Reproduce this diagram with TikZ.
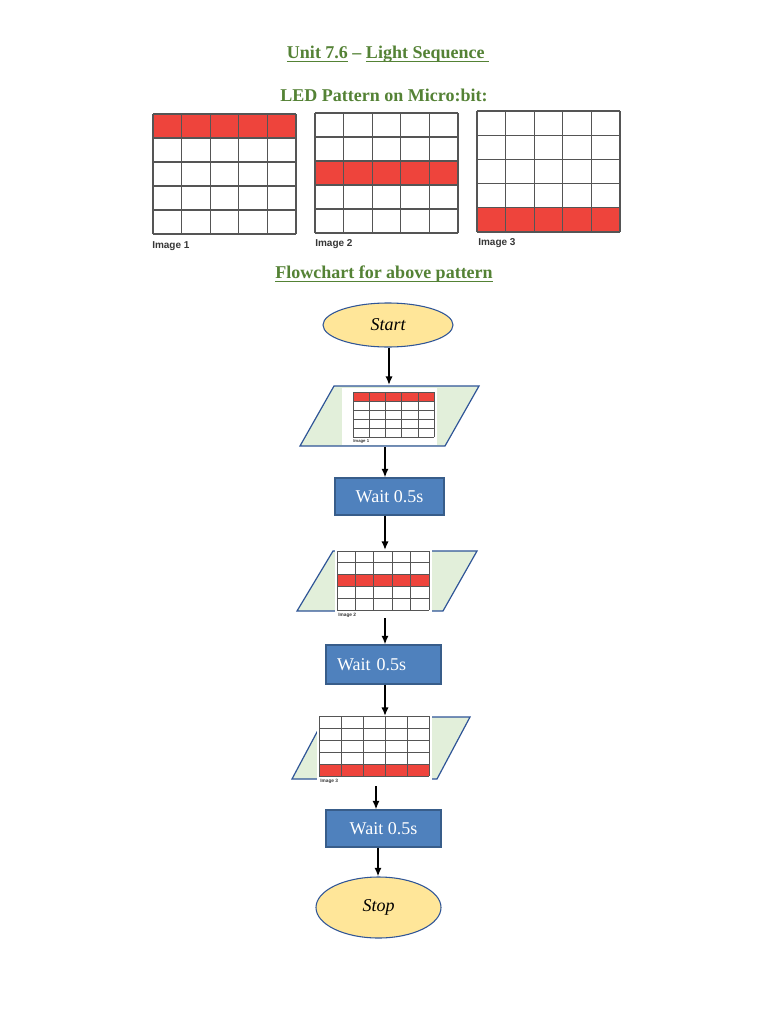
\documentclass[tikz,border=0pt]{standalone}
\usepackage{fontspec}
\setmainfont{Liberation Serif}
\newfontfamily\labfont{Liberation Sans}
\usetikzlibrary{shapes.geometric,arrows.meta}
\definecolor{titlegreen}{RGB}{84,130,53}
\definecolor{ledred}{RGB}{238,68,60}
\definecolor{gridgray}{RGB}{85,85,85}
\definecolor{termfill}{RGB}{255,230,153}
\definecolor{shapeblue}{RGB}{47,85,151}
\definecolor{iofill}{RGB}{226,239,218}
\definecolor{waitfill}{RGB}{79,129,189}
\definecolor{waitedge}{RGB}{56,93,138}
\definecolor{labgray}{RGB}{55,55,55}
\newcommand{\ledgrid}[6]{%
  \pgfmathsetmacro{\lgw}{(#3-#1)/5}%
  \pgfmathsetmacro{\lgh}{(#4-#2)/5}%
  \fill[ledred] (#1,{#2+(#5-1)*\lgh}) rectangle (#3,{#2+#5*\lgh});
  \foreach \k in {0,...,5}{%
    \draw[gridline,line width=#6] ({#1+\k*\lgw},#2) -- ({#1+\k*\lgw},#4);
    \draw[gridline,line width=#6] (#1,{#2+\k*\lgh}) -- (#3,{#2+\k*\lgh});
  }%
}
\newcommand{\myul}[1]{\setbox0=\hbox{#1}\rlap{\rule[-2.4pt]{\wd0}{0.75pt}}\box0\relax}
\tikzset{
  gridline/.style={draw=gridgray},
  titletext/.style={text=titlegreen,font=\fontsize{13.5pt}{16pt}\selectfont\bfseries,inner sep=0pt,anchor=base},
  imglabel/.style={text=labgray,font=\labfont\bfseries\fontsize{7.5pt}{9pt}\selectfont,inner sep=0pt,anchor=west},
  tinylabel/.style={text=labgray,font=\labfont\bfseries\fontsize{3.2pt}{4pt}\selectfont,inner sep=0pt,anchor=west},
  terminal/.style={ellipse,draw=shapeblue,line width=0.8pt,fill=termfill,inner sep=0pt,font=\itshape\fontsize{13.5pt}{16pt}\selectfont},
  iobox/.style={draw=shapeblue,line width=0.9pt,fill=iofill},
  imgbox/.style={fill=white,draw=none,inner sep=0pt},
  waitbox/.style={rectangle,draw=waitedge,line width=0.8pt,fill=waitfill,text=white,inner sep=0pt,font=\fontsize{13.5pt}{16pt}\selectfont},
  arr/.style={draw=black,line width=1.3pt,-{Latex[length=6.5pt,width=5.5pt]}}
}
\begin{document}
\begin{tikzpicture}[x=0.75pt,y=-0.75pt]
\useasboundingbox[fill=white] (0,0) rectangle (768,1024);

% titles
\node[titletext] (t1) at (388,59) {\myul{Unit 7.6} -- \myul{Light Sequence\ }};
\node[titletext] (t2) at (384,101.5) {LED Pattern on Micro:bit:};
\node[titletext] (t3) at (384,278.5) {\myul{Flowchart for above pattern}};

% LED patterns
\ledgrid{153}{114}{296}{234}{1}{0.8pt}
\node[imglabel] (l1) at (152,246) {Image 1};
\ledgrid{315}{113}{458}{233}{3}{0.8pt}
\node[imglabel] (l2) at (315,244) {Image 2};
\ledgrid{477}{111}{620}{232}{5}{0.8pt}
\node[imglabel] (l3) at (478,243) {Image 3};

% flowchart
\node[terminal,minimum width=97.5pt,minimum height=33pt] (start) at (388,325) {Start};

\draw[iobox] (300,446) -- (445,446) -- (479,386) -- (334,386) -- cycle;
\node[imgbox,minimum width=71.25pt,minimum height=42.75pt] (img1) at (389.5,416.5) {};
\ledgrid{353}{392}{434}{437}{1}{0.45pt}
\node[tinylabel] (il1) at (353,441) {Image 1};
\coordinate (p1in) at (389,385);
\coordinate (p1out) at (385,447);

\node[waitbox,minimum width=81.75pt,minimum height=27.75pt] (w1) at (389.5,496.5) {Wait 0.5s};

\draw[iobox] (297,611) -- (443,611) -- (477,551) -- (333,551) -- cycle;
\node[imgbox,minimum width=72.75pt,minimum height=53.25pt] (img2) at (383.5,583.5) {};
\ledgrid{337}{551}{429}{610}{3}{0.5pt}
\node[tinylabel,font=\labfont\bfseries\fontsize{3.6pt}{4pt}\selectfont] (il2) at (338,615) {Image 2};
\coordinate (p2in) at (385,550);
\coordinate (p2out) at (385,618);

\node[waitbox,minimum width=86.25pt,minimum height=29.25pt,text width=69.75pt,align=left,inner xsep=8.25pt] (w2) at (383.5,664.5) {Wait 0.5s};

\draw[iobox] (292,779) -- (437,779) -- (470,717) -- (325,717) -- cycle;
\node[imgbox,minimum width=86.25pt,minimum height=53.25pt] (img3) at (374.5,749.5) {};
\ledgrid{319}{716}{429}{776}{5}{0.5pt}
\node[tinylabel,font=\labfont\bfseries\fontsize{3.6pt}{4pt}\selectfont] (il3) at (320,781) {Image 3};
\coordinate (p3in) at (385,716);
\coordinate (p3out) at (376,786);

\node[waitbox,minimum width=86.25pt,minimum height=27.75pt] (w3) at (383.5,828.5) {Wait 0.5s};

\node[terminal,minimum width=93.75pt,minimum height=45.75pt] (stop) at (378.5,907.5) {Stop};

% connectors
\draw[arr] (start.south -| p1in) -- (p1in);
\draw[arr] (p1out) -- (p1out |- w1.north);
\draw[arr] (p2in |- w1.south) -- (p2in);
\draw[arr] (p2out) -- (p2out |- w2.north);
\draw[arr] (p3in |- w2.south) -- (p3in);
\draw[arr] (p3out) -- (p3out |- w3.north);
\coordinate (w3out) at (378,848);
\draw[arr] (w3out |- w3.south) -- (w3out |- stop.north);
\end{tikzpicture}
\end{document}
